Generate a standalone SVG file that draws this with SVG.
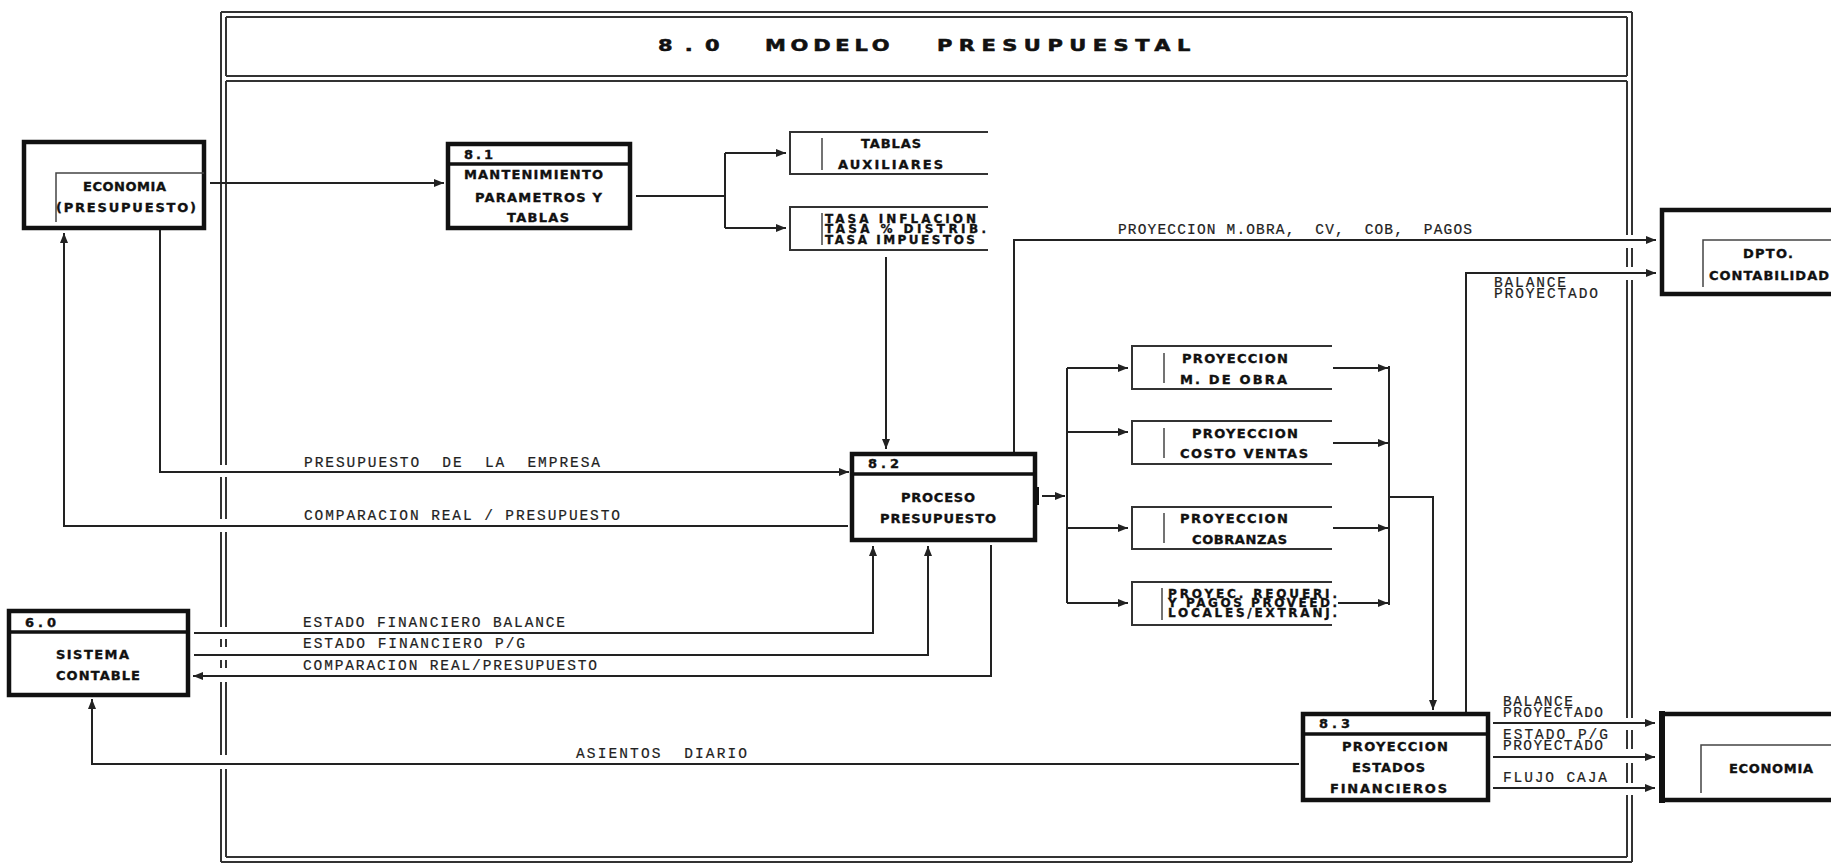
<svg xmlns="http://www.w3.org/2000/svg" width="1831" height="864" viewBox="0 0 1831 864">
<style>
.fr{fill:none;stroke:#333;stroke-width:2}
.ln{fill:none;stroke:#222;stroke-width:2}
.ar{marker-end:url(#ah)}
.box{fill:none;stroke:#111;stroke-width:4.5}
.hd{fill:none;stroke:#111;stroke-width:3.5}
.st{fill:none;stroke:#333;stroke-width:2}
.sti{fill:none;stroke:#444;stroke-width:1.5}
.bt{font-family:"DejaVu Sans","Liberation Sans",sans-serif;font-weight:bold;font-size:13px;fill:#111;stroke:#111;stroke-width:0.35}
.sm{font-size:12px}
.lb{font-family:"Liberation Mono","DejaVu Sans Mono",monospace;font-size:14.5px;fill:#222;stroke:#222;stroke-width:0.2}
.tt{font-family:"DejaVu Sans","Liberation Sans",sans-serif;font-weight:bold;font-size:15px;fill:#111;stroke:#111;stroke-width:0.5}
</style>
<defs>
<marker id="ah" markerUnits="userSpaceOnUse" markerWidth="11" markerHeight="8" refX="10" refY="4" orient="auto">
<path d="M0,0 L10,4 L0,8 Z" fill="#222"/>
</marker>
</defs>
<rect x="0" y="0" width="1831" height="864" fill="#fff"/>

<g id="frame">
<path class="fr" d="M221,12 H1632 M226,17 H1627 M226,76 H1627 M226,81 H1627 M221,862 H1632 M226,857 H1627"/>
<path class="fr" d="M221,12 V465 M221,477 V519 M221,532 V627 M221,639 V647 M221,660 V668 M221,682 V755 M221,769 V862"/>
<path class="fr" d="M226,17 V76 M226,81 V465 M226,477 V519 M226,532 V627 M226,639 V647 M226,660 V668 M226,682 V755 M226,769 V857"/>
<path class="fr" d="M1632,12 V235 M1632,248 V267 M1632,280 V718 M1632,730 V749 M1632,763 V783 M1632,795 V862"/>
<path class="fr" d="M1627,17 V76 M1627,81 V235 M1627,248 V267 M1627,280 V718 M1627,730 V749 M1627,763 V783 M1627,795 V857"/>
<text class="tt" transform="translate(658,51) scale(1.4,1)" textLength="44" lengthAdjust="spacing">8.0</text>
<text class="tt" transform="translate(765,51) scale(1.4,1)" textLength="89" lengthAdjust="spacing">MODELO</text>
<text class="tt" transform="translate(937,51) scale(1.4,1)" textLength="181" lengthAdjust="spacing">PRESUPUESTAL</text>
</g>

<g id="connectors">
<path class="ln ar" d="M210,183 H444"/>
<path class="ln" d="M636,196 H725 M725,153 V228"/>
<path class="ln ar" d="M725,153 H786"/>
<path class="ln ar" d="M725,228 H786"/>
<path class="ln ar" d="M886,257 V449"/>
<path class="ln ar" d="M160,230 V472 H849"/>
<path class="ln ar" d="M848,526 H64 V233"/>
<path class="ln ar" d="M1014,452 V240 H1656"/>
<path class="ln ar" d="M1042,496 H1065"/>
<path class="ln" d="M1067,368 V603"/>
<path class="ln ar" d="M1067,368 H1128"/>
<path class="ln ar" d="M1067,432 H1128"/>
<path class="ln ar" d="M1067,528 H1128"/>
<path class="ln ar" d="M1067,603 H1128"/>
<path class="ln ar" d="M1333,368 H1388"/>
<path class="ln ar" d="M1333,443 H1388"/>
<path class="ln ar" d="M1333,528 H1388"/>
<path class="ln ar" d="M1338,603 H1388"/>
<path class="ln" d="M1389,366 V605"/>
<path class="ln ar" d="M1389,497 H1433 V710"/>
<path class="ln ar" d="M1466,712 V273 H1656"/>
<path class="ln ar" d="M194,633 H873 V546"/>
<path class="ln ar" d="M194,655 H928 V546"/>
<path class="ln ar" d="M991,545 V676 H193"/>
<path class="ln ar" d="M1299,764 H92 V699"/>
<path class="ln ar" d="M1493,723 H1655"/>
<path class="ln ar" d="M1493,757 H1655"/>
<path class="ln ar" d="M1493,788 H1655"/>
<text class="lb" x="304" y="467" textLength="296" lengthAdjust="spacing" xml:space="preserve">PRESUPUESTO  DE  LA  EMPRESA</text>
<text class="lb" x="304" y="520" textLength="316" lengthAdjust="spacing">COMPARACION REAL / PRESUPUESTO</text>
<text class="lb" x="1118" y="234" textLength="354" lengthAdjust="spacing" xml:space="preserve">PROYECCION M.OBRA,  CV,  COB,  PAGOS</text>
<text class="lb" x="1494" y="287" textLength="72" lengthAdjust="spacing">BALANCE</text>
<text class="lb" x="1494" y="298" textLength="104" lengthAdjust="spacing">PROYECTADO</text>
<text class="lb" x="303" y="627" textLength="262" lengthAdjust="spacing">ESTADO FINANCIERO BALANCE</text>
<text class="lb" x="303" y="648" textLength="222" lengthAdjust="spacing">ESTADO FINANCIERO P/G</text>
<text class="lb" x="303" y="670" textLength="294" lengthAdjust="spacing">COMPARACION REAL/PRESUPUESTO</text>
<text class="lb" x="576" y="758" textLength="171" lengthAdjust="spacing" xml:space="preserve">ASIENTOS  DIARIO</text>
<text class="lb" x="1503" y="706" textLength="70" lengthAdjust="spacing">BALANCE</text>
<text class="lb" x="1503" y="717" textLength="100" lengthAdjust="spacing">PROYECTADO</text>
<text class="lb" x="1503" y="739" textLength="105" lengthAdjust="spacing">ESTADO P/G</text>
<text class="lb" x="1503" y="750" textLength="100" lengthAdjust="spacing">PROYECTADO</text>
<text class="lb" x="1503" y="782" textLength="104" lengthAdjust="spacing">FLUJO CAJA</text>
</g>

<g id="economia-presupuesto">
<rect class="box" x="24" y="142" width="180" height="86"/>
<path class="sti" d="M56,222 V173 H204"/>
<text class="bt" x="83" y="191" textLength="83" lengthAdjust="spacing">ECONOMIA</text>
<text class="bt" x="56" y="212" textLength="140" lengthAdjust="spacing">(PRESUPUESTO)</text>
</g>

<g id="p81">
<rect class="box" x="448" y="144" width="182" height="84"/>
<path class="hd" d="M448,164 H630"/>
<text class="bt" x="464" y="159" textLength="29" lengthAdjust="spacing">8.1</text>
<text class="bt" x="464" y="179" textLength="139" lengthAdjust="spacing">MANTENIMIENTO</text>
<text class="bt" x="475" y="202" textLength="127" lengthAdjust="spacing">PARAMETROS Y</text>
<text class="bt" x="507" y="222" textLength="62" lengthAdjust="spacing">TABLAS</text>
</g>

<g id="tablas-auxiliares">
<path class="st" d="M988,132 H790 V174 H988"/>
<path class="sti" d="M822,138 V170"/>
<text class="bt" x="861" y="148" textLength="60" lengthAdjust="spacing">TABLAS</text>
<text class="bt" x="838" y="169" textLength="105" lengthAdjust="spacing">AUXILIARES</text>
</g>

<g id="tasas">
<path class="st" d="M988,207 H790 V250 H988"/>
<path class="sti" d="M822,213 V245"/>
<text class="bt sm" x="825" y="223" textLength="151" lengthAdjust="spacing">TASA INFLACION</text>
<text class="bt sm" x="825" y="233" textLength="161" lengthAdjust="spacing">TASA % DISTRIB.</text>
<text class="bt sm" x="825" y="244" textLength="150" lengthAdjust="spacing">TASA IMPUESTOS</text>
</g>

<g id="p82">
<rect class="box" x="852" y="454" width="183" height="86"/>
<path class="hd" d="M852,474 H1035"/>
<rect x="1033" y="487" width="6" height="18" fill="#111"/>
<text class="bt" x="868" y="468" textLength="31" lengthAdjust="spacing">8.2</text>
<text class="bt" x="901" y="502" textLength="74" lengthAdjust="spacing">PROCESO</text>
<text class="bt" x="880" y="523" textLength="116" lengthAdjust="spacing">PRESUPUESTO</text>
</g>

<g id="proy-mano-obra">
<path class="st" d="M1332,346 H1132 V389 H1332"/>
<path class="sti" d="M1164,353 V383"/>
<text class="bt" x="1182" y="363" textLength="106" lengthAdjust="spacing">PROYECCION</text>
<text class="bt" x="1180" y="384" textLength="107" lengthAdjust="spacing">M. DE OBRA</text>
</g>

<g id="proy-costo-ventas">
<path class="st" d="M1332,421 H1132 V464 H1332"/>
<path class="sti" d="M1164,428 V458"/>
<text class="bt" x="1192" y="438" textLength="106" lengthAdjust="spacing">PROYECCION</text>
<text class="bt" x="1180" y="458" textLength="128" lengthAdjust="spacing">COSTO VENTAS</text>
</g>

<g id="proy-cobranzas">
<path class="st" d="M1332,507 H1132 V549 H1332"/>
<path class="sti" d="M1164,513 V543"/>
<text class="bt" x="1180" y="523" textLength="108" lengthAdjust="spacing">PROYECCION</text>
<text class="bt" x="1192" y="544" textLength="95" lengthAdjust="spacing">COBRANZAS</text>
</g>

<g id="proy-requerimientos">
<path class="st" d="M1332,582 H1132 V625 H1332"/>
<path class="sti" d="M1162,588 V620"/>
<text class="bt sm" x="1168" y="598" textLength="169" lengthAdjust="spacing">PROYEC. REQUERI.</text>
<text class="bt sm" x="1168" y="607" textLength="169" lengthAdjust="spacing">Y PAGOS PROVEED.</text>
<text class="bt sm" x="1168" y="617" textLength="169" lengthAdjust="spacing">LOCALES/EXTRANJ.</text>
</g>

<g id="p83">
<rect class="box" x="1303" y="714" width="185" height="86"/>
<path class="hd" d="M1303,734 H1488"/>
<text class="bt" x="1319" y="728" textLength="31" lengthAdjust="spacing">8.3</text>
<text class="bt" x="1342" y="751" textLength="106" lengthAdjust="spacing">PROYECCION</text>
<text class="bt" x="1352" y="772" textLength="73" lengthAdjust="spacing">ESTADOS</text>
<text class="bt" x="1330" y="793" textLength="117" lengthAdjust="spacing">FINANCIEROS</text>
</g>

<g id="sistema-contable">
<rect class="box" x="9" y="611" width="179" height="84"/>
<path class="hd" d="M9,632 H188"/>
<text class="bt" x="25" y="627" textLength="31" lengthAdjust="spacing">6.0</text>
<text class="bt" x="56" y="659" textLength="73" lengthAdjust="spacing">SISTEMA</text>
<text class="bt" x="56" y="680" textLength="84" lengthAdjust="spacing">CONTABLE</text>
</g>

<g id="dpto-contabilidad">
<rect class="box" x="1662" y="210" width="200" height="84"/>
<path class="sti" d="M1703,287 V240 H1831"/>
<text class="bt" x="1743" y="258" textLength="50" lengthAdjust="spacing">DPTO.</text>
<text class="bt" x="1709" y="280" textLength="120" lengthAdjust="spacing">CONTABILIDAD</text>
</g>

<g id="economia">
<path class="box" d="M1840,714 H1662 V800 H1840"/>
<path d="M1662,711 V803" stroke="#111" stroke-width="6" fill="none"/>
<path class="sti" d="M1701,793 V745 H1831"/>
<text class="bt" x="1729" y="773" textLength="84" lengthAdjust="spacing">ECONOMIA</text>
</g>
</svg>
